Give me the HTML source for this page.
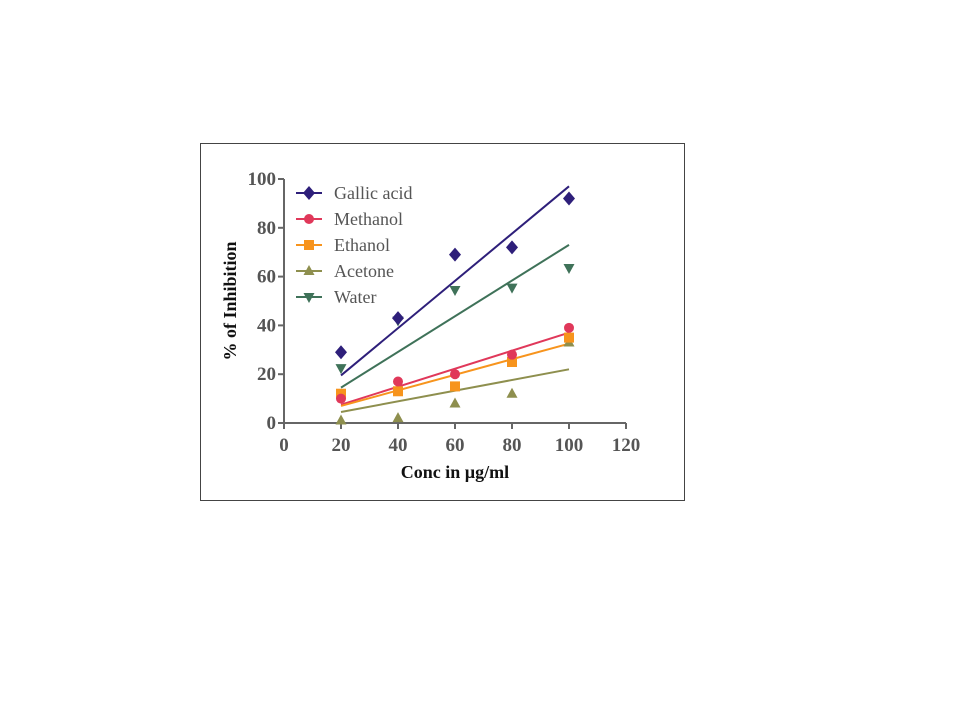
<!DOCTYPE html>
<html><head><meta charset="utf-8">
<style>
body{margin:0;background:#fff;width:960px;height:720px;overflow:hidden}
svg{position:absolute;left:0;top:0}
text{font-family:"Liberation Serif",serif}
</style></head>
<body>
<svg id="chart" width="960" height="720">
<rect x="200.5" y="143.5" width="484" height="357" fill="#fff" stroke="#444" stroke-width="1"/>
<g id="axes"></g>
<g id="lines"></g>
<g id="points"></g>
<g id="legend"></g>
<text x="455" y="478" text-anchor="middle" font-size="18" font-weight="bold" fill="#111">Conc in µg/ml</text>
<text transform="translate(236,301) rotate(-90)" text-anchor="middle" font-size="18" font-weight="bold" fill="#111">% of Inhibition</text>
</svg>
<script>
const categories = [20, 40, 60, 80, 100];
const seriesNames = ["Gallic acid", "Methanol", "Ethanol", "Acetone", "Water"];
const gallic = [29, 43, 69, 72, 92];
const methanol = [10, 17, 20, 28, 39];
const ethanol = [12, 13, 15, 25, 35];
const acetone = [1, 2, 8, 12, 33];
const water = [22.5, 42, 54.5, 55.5, 63.5];
const fitStart = [19.5, 7.5, 7, 4.5, 14.5];
const fitEnd = [97, 37, 32.5, 22, 73];
const xTicks = [0, 20, 40, 60, 80, 100, 120];
const yTicks = [0, 20, 40, 60, 80, 100];

const NS = "http://www.w3.org/2000/svg";
const colors = ["#2e1f7a", "#e0385a", "#f7941d", "#8e8f4e", "#3f7259"];
const shapes = ["diamond", "circle", "square", "tri", "tridown"];
const series = [gallic, methanol, ethanol, acetone, water];
function xs(v){ return 284 + (v - 0) * (626 - 284) / 120; }
function ys(v){ return 423 - v * (423 - 179) / 100; }
function mk(tag, attrs, parent){ const e = document.createElementNS(NS, tag); for (const k in attrs) e.setAttribute(k, attrs[k]); parent.appendChild(e); return e; }

const axes = document.getElementById('axes');
const axc = "#666";
mk('line', {x1:xs(0), y1:ys(0), x2:xs(120), y2:ys(0), stroke:axc, 'stroke-width':2}, axes);
mk('line', {x1:xs(0), y1:ys(0), x2:xs(0), y2:ys(100), stroke:axc, 'stroke-width':2}, axes);
xTicks.forEach(t => {
  const l = mk('line', {x1:xs(t), y1:ys(0), x2:xs(t), y2:ys(0)+6, stroke:axc, 'stroke-width':2}, axes);
  
  
  const tx = mk('text', {x:xs(t), y:ys(0)+28, 'text-anchor':'middle', 'font-size':19, 'font-weight':'bold', fill:'#555'}, axes);
  tx.textContent = t;
  
  
});
yTicks.forEach(t => {
  const l = mk('line', {x1:xs(0)-6, y1:ys(t), x2:xs(0), y2:ys(t), stroke:axc, 'stroke-width':2}, axes);
  
  
  const tx = mk('text', {x:xs(0)-8, y:ys(t)+6, 'text-anchor':'end', 'font-size':19, 'font-weight':'bold', fill:'#555'}, axes);
  tx.textContent = t;
  
  
});

function marker(shape, cx, cy, color, parent){
  let e;
  if (shape === 'diamond') e = mk('polygon', {points:`${cx},${cy-7} ${cx+6},${cy} ${cx},${cy+7} ${cx-6},${cy}`, fill:color}, parent);
  else if (shape === 'circle') e = mk('circle', {cx:cx, cy:cy, r:5, fill:color}, parent);
  else if (shape === 'square') e = mk('rect', {x:cx-5, y:cy-5, width:10, height:10, fill:color}, parent);
  else if (shape === 'tri') e = mk('polygon', {points:`${cx},${cy-6} ${cx+5.5},${cy+4} ${cx-5.5},${cy+4}`, fill:color}, parent);
  else e = mk('polygon', {points:`${cx},${cy+6} ${cx+5.5},${cy-4} ${cx-5.5},${cy-4}`, fill:color}, parent);
  return e;
}

const lines = document.getElementById('lines');
const points = document.getElementById('points');
series.forEach((s, i) => {
  const ln = mk('line', {x1:xs(categories[0]), y1:ys(fitStart[i]), x2:xs(categories[categories.length-1]), y2:ys(fitEnd[i]), stroke:colors[i], 'stroke-width':2}, lines);
  
  
});
for (let i = series.length - 1; i >= 0; i--) {
  series[i].forEach((v, j) => {
    if (v === null) return;
    const m = marker(shapes[i], xs(categories[j]), ys(v), colors[i], points);
    
    
  });
}

const legend = document.getElementById('legend');
seriesNames.forEach((n, i) => {
  const y = 193 + i * 26;
  const g = mk('g', {}, legend);
  
  
  mk('line', {x1:296, y1:y, x2:322, y2:y, stroke:colors[i], 'stroke-width':2}, g);
  marker(shapes[i], 309, y, colors[i], g);
  const t = mk('text', {x:334, y:y+6, 'font-size':18, fill:'#555'}, g);
  t.textContent = n;
});
</script>
</body></html>
